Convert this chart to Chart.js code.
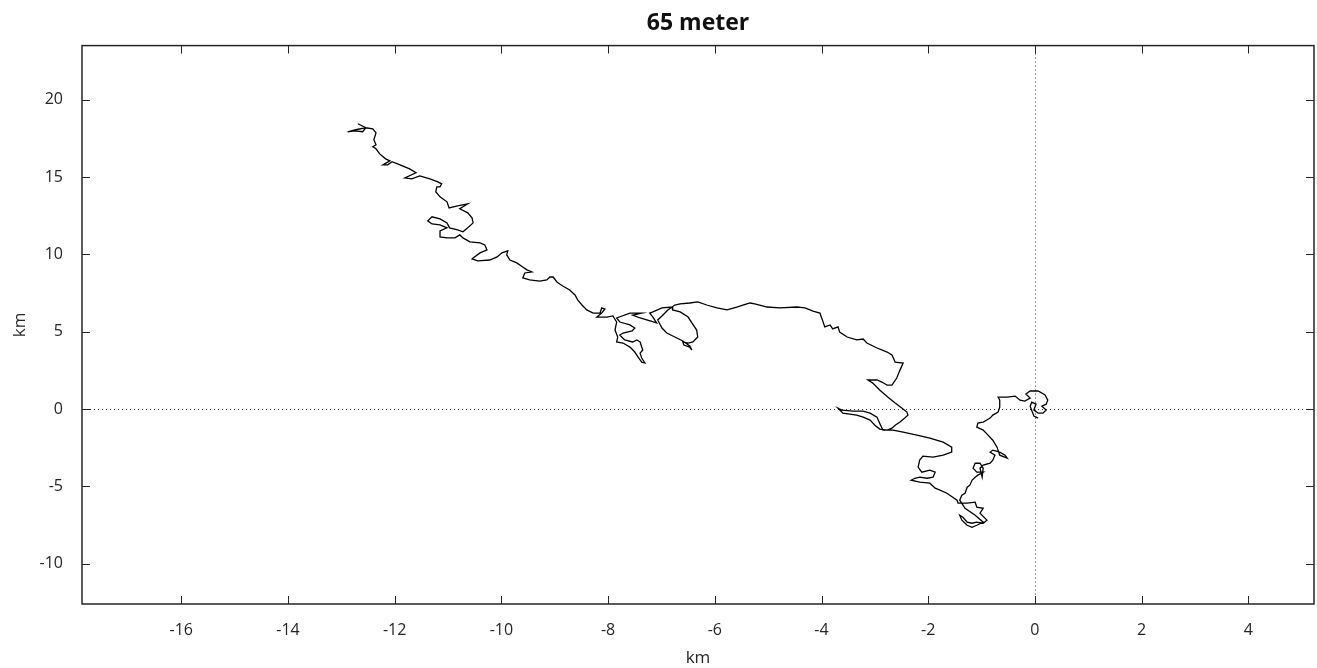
<!DOCTYPE html>
<html lang="en">

<head>
    <meta charset="UTF-8">
    <title>65 meter</title>
    <style>
        body {
            margin: 0;
            background: #fff;
        }
    </style>
</head>

<body>
    <canvas id="chart" width="1317" height="668"></canvas>

    <script src="https://cdn.jsdelivr.net/npm/chart.js"></script>

    <script>
        // track in km (x = east, y = north)
        const trackX = [
            -12.69, -12.54, -12.73, -12.88, -12.75, -12.60, -12.54, -12.41, -12.35, -12.39,
            -12.35, -12.41, -12.35, -12.28, -12.17, -12.09, -12.22, -12.13, -12.05, -11.90,
            -11.72, -11.60, -11.81, -11.68, -11.53, -11.34, -11.19, -11.12, -11.15, -11.21,
            -11.23, -11.15, -11.02, -10.98, -10.82, -10.63, -10.78, -10.63, -10.55, -10.53,
            -10.63, -10.72, -10.82, -10.97, -11.02, -11.15, -11.30, -11.38, -11.30, -11.15,
            -11.02, -11.15, -11.15, -11.02, -10.87, -10.78, -10.72, -10.59, -10.40, -10.31,
            -10.27, -10.40, -10.53, -10.55, -10.44, -10.22, -10.08, -9.99, -9.88, -9.90,
            -9.84, -9.71, -9.60, -9.52, -9.43, -9.56, -9.60, -9.47, -9.28, -9.15,
            -9.09, -9.03, -8.96, -8.85, -8.72, -8.62, -8.57, -8.49, -8.40, -8.28,
            -8.15, -8.12, -8.06, -8.12, -8.21, -8.02, -7.91,
            -7.84, -7.87, -7.82, -7.84, -7.72, -7.59, -7.50, -7.44, -7.37, -7.31,
            -7.37, -7.40, -7.35, -7.37, -7.40, -7.46, -7.54, -7.69, -7.78, -7.72,
            -7.55, -7.50, -7.59, -7.78, -7.84, -7.59, -7.37, -7.54, -7.40, -7.09,
            -7.16, -7.22, -7.16, -6.99, -6.80, -6.79, -6.65, -6.50, -6.43, -6.34,
            -6.32, -6.41, -6.50, -6.60, -6.58, -6.47, -6.43, -6.47, -6.60, -6.75,
            -6.90, -6.99, -7.07, -6.99, -6.88, -6.75,
            -6.65, -6.47, -6.32, -6.15, -5.96, -5.77, -5.59, -5.40, -5.34, -5.25,
            -5.02, -4.78, -4.46, -4.31, -4.16, -4.03, -3.97, -3.94, -3.84, -3.79,
            -3.69, -3.66, -3.52, -3.34, -3.22, -3.15, -2.96, -2.77, -2.68, -2.62,
            -2.47, -2.53, -2.59, -2.68, -2.77, -2.87, -2.96, -3.13, -3.04, -2.91,
            -2.76, -2.62, -2.49, -2.40, -2.38, -2.44, -2.53, -2.62, -2.68, -2.77,
            -2.91, -3.00, -3.09, -3.22, -3.34, -3.47, -3.60, -3.69, -3.62, -3.41,
            -3.22, -3.09, -2.96, -2.91, -2.85, -2.66, -2.47, -2.21, -1.97, -1.72,
            -1.56, -1.56, -1.72, -1.91, -2.10, -2.16, -2.19, -2.12, -1.97, -1.87,
            -1.91, -2.02, -2.16, -2.25, -2.32, -2.16, -1.97, -1.87, -1.78, -1.65,
            -1.54, -1.46, -1.44,
            -1.27, -1.12, -1.09, -0.97, -1.03, -0.90, -0.97, -1.09, -1.18, -1.27,
            -1.35, -1.41, -1.37, -1.27, -1.18, -1.09, -0.97, -1.12, -1.31, -1.41,
            -1.37, -1.31, -1.27, -1.22, -1.18, -1.12, -1.07, -0.97, -1.09, -1.16,
            -1.12, -1.03, -0.97, -0.99, -1.03, -0.97, -0.84, -0.79, -0.75, -0.84,
            -0.79, -0.66, -0.56, -0.52, -0.66, -0.71, -0.79, -0.88, -0.97, -1.09,
            -1.07, -0.97, -0.84, -0.79, -0.69, -0.66, -0.66, -0.69,
            -0.52, -0.37, -0.28, -0.19, -0.09, -0.17, -0.09, 0.06, 0.19, 0.24,
            0.21, 0.13, 0.21, 0.15, 0.06, -0.02, 0.02, -0.06, -0.09, -0.02, 0.06
        ];
        const trackY = [
            18.45, 18.19, 18.06, 17.93, 17.99, 17.93, 18.19, 18.12, 17.86, 17.41,
            17.09, 16.96, 16.83, 16.50, 16.18, 16.05, 15.79, 15.79, 15.99, 15.79,
            15.53, 15.28, 14.95, 14.89, 15.08, 14.89, 14.69, 14.56, 14.37, 14.37,
            14.05, 13.72, 13.40, 13.01, 13.14, 13.27, 12.95, 12.69, 12.36, 12.04,
            11.72, 11.46, 11.59, 11.72, 12.04, 12.30, 12.43, 12.17, 11.97, 11.91,
            11.72, 11.52, 11.13, 11.07, 11.07, 11.26, 11.07, 10.81, 10.74, 10.61,
            10.29, 10.10, 9.77, 9.71, 9.58, 9.64, 9.84, 10.10, 10.23, 9.97,
            9.64, 9.45, 9.19, 9.00, 8.87, 8.80, 8.48, 8.35, 8.28, 8.35,
            8.54, 8.54, 8.22, 7.96, 7.70, 7.38, 7.06, 6.73, 6.41, 6.21,
            6.21, 6.54, 6.47, 6.21, 5.95, 5.95, 6.02,
            5.63, 5.11, 4.66, 4.34, 4.27, 4.01, 3.69, 3.37, 3.04, 2.98,
            3.30, 3.62, 3.82, 4.01, 4.34, 4.47, 4.34, 4.47, 4.79, 4.92,
            5.05, 5.24, 5.44, 5.63, 5.89, 6.21, 6.21, 6.08, 5.89, 5.57,
            5.95, 6.21, 6.28, 6.54, 6.60, 6.41, 6.28, 5.95, 5.57, 5.11,
            4.66, 4.34, 4.27, 4.34, 4.14, 4.01, 3.82, 4.08, 4.40, 4.66,
            4.92, 5.24, 5.76, 6.02, 6.41, 6.73,
            6.80, 6.86, 6.93, 6.73, 6.54, 6.41, 6.60, 6.80, 6.86, 6.80,
            6.60, 6.54, 6.60, 6.54, 6.34, 6.21, 5.63, 5.31, 5.44, 5.18,
            5.31, 4.98, 4.66, 4.47, 4.53, 4.27, 3.95, 3.69, 3.50, 3.04,
            2.98, 2.52, 2.01, 1.55, 1.55, 1.75, 1.88, 1.88, 1.68, 1.23,
            0.78, 0.39, 0.06, -0.19, -0.39, -0.58, -0.84, -1.04, -1.23, -1.36,
            -1.29, -1.04, -0.71, -0.52, -0.39, -0.32, -0.26, 0.06, -0.06, -0.13,
            -0.13, -0.26, -0.52, -0.91, -1.36, -1.36, -1.49, -1.68, -1.88, -2.14,
            -2.46, -2.78, -2.98, -3.11, -3.04, -3.30, -3.75, -4.08, -3.95, -4.08,
            -4.40, -4.47, -4.40, -4.47, -4.60, -4.72, -4.79, -5.11, -5.24, -5.44,
            -5.70, -5.89, -6.08,
            -6.08, -6.02, -6.34, -6.41, -6.73, -7.18, -7.38, -7.31, -7.38, -7.31,
            -6.99, -6.86, -7.18, -7.51, -7.64, -7.51, -7.31, -6.86, -6.41, -5.89,
            -5.57, -5.44, -5.05, -4.92, -4.60, -4.40, -4.27, -4.08, -4.08, -3.82,
            -3.50, -3.50, -3.82, -4.40, -3.82, -3.62, -3.50, -3.30, -2.98, -2.78,
            -2.65, -2.78, -2.98, -3.17, -2.98, -2.46, -2.01, -1.68, -1.36, -1.17,
            -0.91, -0.84, -0.58, -0.39, -0.19, 0.13, 0.58, 0.78,
            0.78, 0.84, 0.58, 0.52, 0.71, 0.97, 1.17, 1.17, 0.91, 0.58,
            0.32, 0.19, -0.06, -0.26, -0.26, -0.06, 0.32, 0.45, 0.19, -0.45, -0.58
        ];

        const xTicks = [-16, -14, -12, -10, -8, -6, -4, -2, 0, 2, 4];
        const yTicks = [-10, -5, 0, 5, 10, 15, 20];
        const xRange = [-17.86, 5.23];
        const yRange = [-12.6, 23.5];

        const points = trackX.map((x, i) => ({ x: x, y: trackY[i] }));

        // frame, inward ticks on all four sides, dotted zero lines
        const framePlugin = {
            id: 'frame',
            beforeDatasetsDraw(chart) {
                const { ctx, chartArea: a, scales } = chart;
                const x0 = scales.x.getPixelForValue(0);
                const y0 = scales.y.getPixelForValue(0);
                ctx.save();
                ctx.strokeStyle = '#333';
                ctx.lineWidth = 1;
                ctx.setLineDash([1, 3]);
                ctx.beginPath();
                ctx.moveTo(a.left, Math.round(y0) + 0.5);
                ctx.lineTo(a.right, Math.round(y0) + 0.5);
                ctx.moveTo(Math.round(x0) + 0.5, a.top);
                ctx.lineTo(Math.round(x0) + 0.5, a.bottom);
                ctx.stroke();
                ctx.restore();
            },
            afterDatasetsDraw(chart) {
                const { ctx, chartArea: a, scales } = chart;
                const len = 8;
                ctx.save();
                ctx.strokeStyle = '#262626';
                ctx.lineWidth = 1;
                ctx.beginPath();
                xTicks.forEach(v => {
                    const p = Math.round(scales.x.getPixelForValue(v)) + 0.5;
                    ctx.moveTo(p, a.bottom);
                    ctx.lineTo(p, a.bottom - len);
                    ctx.moveTo(p, a.top);
                    ctx.lineTo(p, a.top + len);
                });
                yTicks.forEach(v => {
                    const p = Math.round(scales.y.getPixelForValue(v)) + 0.5;
                    ctx.moveTo(a.left, p);
                    ctx.lineTo(a.left + len, p);
                    ctx.moveTo(a.right, p);
                    ctx.lineTo(a.right - len, p);
                });
                ctx.stroke();
                ctx.lineWidth = 1.5;
                ctx.strokeRect(a.left, a.top, a.right - a.left, a.bottom - a.top);
                ctx.restore();
            }
        };

        const tickFont = { family: 'Open Sans', size: 16 };

        const ctx = document.getElementById('chart').getContext('2d');
        const trackChart = new Chart(ctx, {
            type: 'scatter',
            data: {
                datasets: [{
                    label: 'track',
                    data: points,
                    showLine: true,
                    borderColor: '#000',
                    borderWidth: 1.3,
                    pointRadius: 0,
                    tension: 0
                }]
            },
            options: {
                responsive: false,
                animation: false,
                layout: {
                    padding: { top: 2, right: 3, left: 0, bottom: 0 }
                },
                plugins: {
                    legend: { display: false },
                    tooltip: { enabled: false },
                    title: {
                        display: true,
                        text: '65 meter',
                        fullSize: false,
                        color: '#111',
                        font: { family: 'Open Sans', size: 23, weight: 'bold', lineHeight: 1.2 },
                        padding: { top: 8, bottom: 8 }
                    }
                },
                scales: {
                    x: {
                        type: 'linear',
                        min: xRange[0],
                        max: xRange[1],
                        afterBuildTicks: s => { s.ticks = xTicks.map(v => ({ value: v })); },
                        afterFit: s => { s.height = 64; },
                        grid: { display: false },
                        border: { display: false },
                        ticks: { color: '#262626', font: tickFont, padding: 9, maxRotation: 0 },
                        title: {
                            display: true,
                            text: 'km',
                            color: '#262626',
                            font: { family: 'Open Sans', size: 17 },
                            padding: { top: 0, bottom: 0 }
                        }
                    },
                    y: {
                        type: 'linear',
                        min: yRange[0],
                        max: yRange[1],
                        afterBuildTicks: s => { s.ticks = yTicks.map(v => ({ value: v })); },
                        afterFit: s => { s.width = 82; },
                        grid: { display: false },
                        border: { display: false },
                        ticks: { color: '#262626', font: tickFont, padding: 11 },
                        title: {
                            display: true,
                            text: 'km',
                            color: '#262626',
                            font: { family: 'Open Sans', size: 17 },
                            padding: { top: 10, bottom: 0 }
                        }
                    }
                }
            },
            plugins: [framePlugin]
        });
    </script>
</body>

</html>
